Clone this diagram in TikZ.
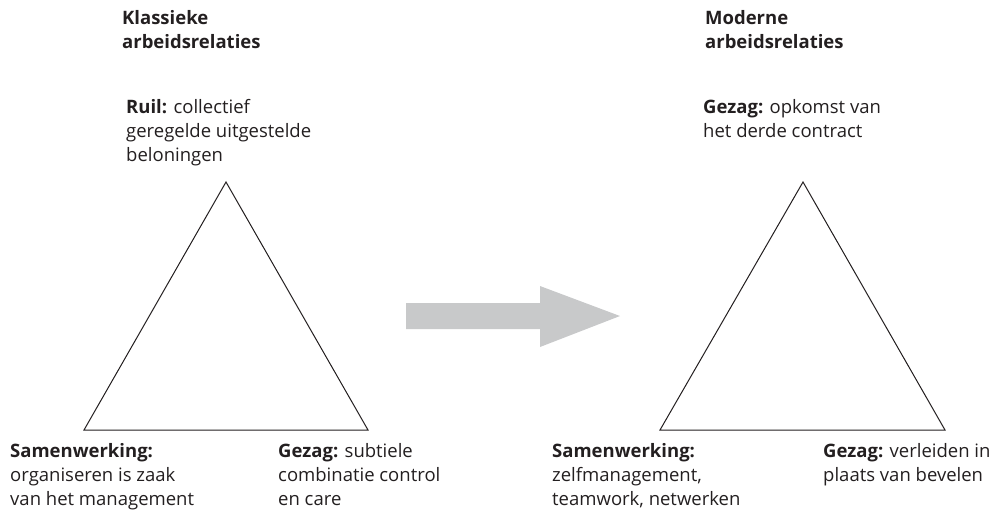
\documentclass[tikz,border=0pt]{standalone}
\usepackage{fontspec}
\setmainfont{Open Sans}
\definecolor{inkgray}{HTML}{231F20}
\definecolor{arrowgray}{HTML}{C8C9CA}

\begin{document}
\begin{tikzpicture}[x=1pt,y=-1pt,
	lbl/.style={align=left, anchor=base west, inner sep=0pt, text=inkgray,
		font=\fontsize{18.5}{23.7}\selectfont}]
	\useasboundingbox (0,0) rectangle (1001,512);
	%% titles (anchored at last baseline)
	\node[lbl] (klassiek) at (122,48) {\textbf{Klassieke}\\\textbf{arbeidsrelaties}};
	\node[lbl] (modern) at (705,48) {\textbf{Moderne}\\\textbf{arbeidsrelaties}};
	%% left triangle
	\coordinate (ltop) at (226,182);
	\coordinate (lleft) at (84,430);
	\coordinate (lright) at (368,430);
	\draw [inkgray, line width=1pt, line join=miter] (ltop)--(lleft)--(lright)--cycle;
	\node[lbl] (ruil) at (126,161) {\textbf{Ruil:} collectief\\geregelde uitgestelde\\beloningen};
	\node[lbl] (samenL) at (10,505) {\textbf{Samenwerking:}\\organiseren is zaak\\van het management};
	\node[lbl] (gezagL) at (278,505) {\textbf{Gezag:} subtiele\\combinatie control\\en care};
	%% arrow
	\fill [arrowgray] (406,303)--(540,303)--(540,286)--(620,316)--(540,347)--(540,329)--(406,329)--cycle;
	%% right triangle
	\coordinate (rtop) at (803,182);
	\coordinate (rleft) at (660,430);
	\coordinate (rright) at (945,430);
	\draw [inkgray, line width=1pt, line join=miter] (rtop)--(rleft)--(rright)--cycle;
	\node[lbl] (gezagT) at (703,137) {\textbf{Gezag:} opkomst van\\het derde contract};
	\node[lbl] (samenR) at (552,505) {\textbf{Samenwerking:}\\zelfmanagement,\\teamwork, netwerken};
	\node[lbl] (gezagR) at (823,481) {\textbf{Gezag:} verleiden in\\plaats van bevelen};
\end{tikzpicture}
\end{document}
